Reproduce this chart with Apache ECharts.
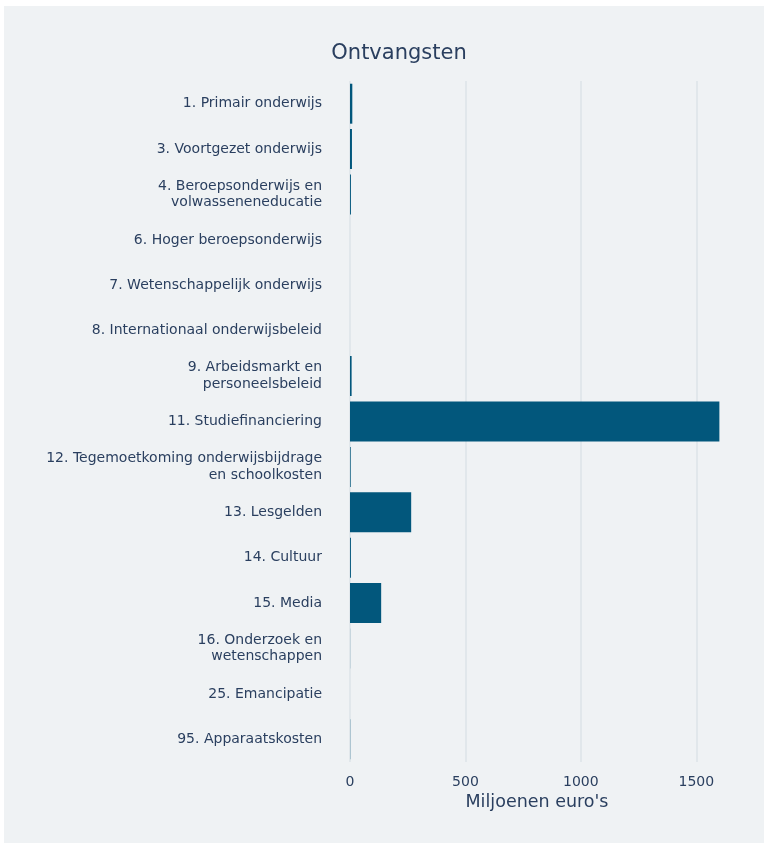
<!DOCTYPE html>
<html><head><meta charset="utf-8">
<script src="https://cdn.jsdelivr.net/npm/echarts@6/dist/echarts.min.js"></script>
<style>
html,body{margin:0;padding:0;background:#fff;}
#c{position:absolute;left:4px;top:6px;width:760px;height:837px;background:#eff2f4;}
</style></head><body>
<div id="c"></div>
<script>
const categories = [
  "1. Primair onderwijs",
  "3. Voortgezet onderwijs",
  "4. Beroepsonderwijs en\nvolwasseneneducatie",
  "6. Hoger beroepsonderwijs",
  "7. Wetenschappelijk onderwijs",
  "8. Internationaal onderwijsbeleid",
  "9. Arbeidsmarkt en\npersoneelsbeleid",
  "11. Studiefinanciering",
  "12. Tegemoetkoming onderwijsbijdrage\nen schoolkosten",
  "13. Lesgelden",
  "14. Cultuur",
  "15. Media",
  "16. Onderzoek en\nwetenschappen",
  "25. Emancipatie",
  "95. Apparaatskosten"
];
const values = [10, 8.5, 4, 0, 0, 0, 7, 1600, 3, 265, 4, 135, 0.5, 0, 1];
const xTicks = [0, 500, 1000, 1500];

const chart = echarts.init(document.getElementById('c'));
const font = "DejaVu Sans, Verdana, sans-serif";
chart.setOption({
  backgroundColor: '#eff2f4',
  animation: false,
  title: {
    text: 'Ontvangsten', left: 390, top: 32, textAlign: 'center',
    textStyle: {fontFamily: font, fontSize: 21, fontWeight: 'normal', color: '#2a3f5f'}
  },
  grid: {left: 346, top: 75, width: 374, height: 681, containLabel: false},
  xAxis: {
    type: 'value', min: 0, max: 1620, interval: 500,
    name: "Miljoenen euro's", nameLocation: 'middle', nameGap: 30,
    nameTextStyle: {fontFamily: font, fontSize: 17.5, color: '#2a3f5f'},
    axisLine: {show: false}, axisTick: {show: false},
    axisLabel: {fontFamily: font, fontSize: 14, color: '#2a3f5f', margin: 13,
      customValues: xTicks, formatter: v => String(v)},
    splitLine: {show: true, showMinLine: true, showMaxLine: false, lineStyle: {color: '#dde3e8', width: 1.5}}
  },
  yAxis: {
    type: 'category', data: categories, inverse: true,
    axisLine: {show: false}, axisTick: {show: false},
    axisLabel: {fontFamily: font, fontSize: 14, color: '#2a3f5f', margin: 28, lineHeight: 16.5, align: 'right'},
    splitLine: {show: false}
  },
  series: [{
    type: 'bar', data: values, barCategoryGap: '12%',
    itemStyle: {color: '#02577c', borderWidth: 0},
    clip: false
  }]
});
</script></body></html>
